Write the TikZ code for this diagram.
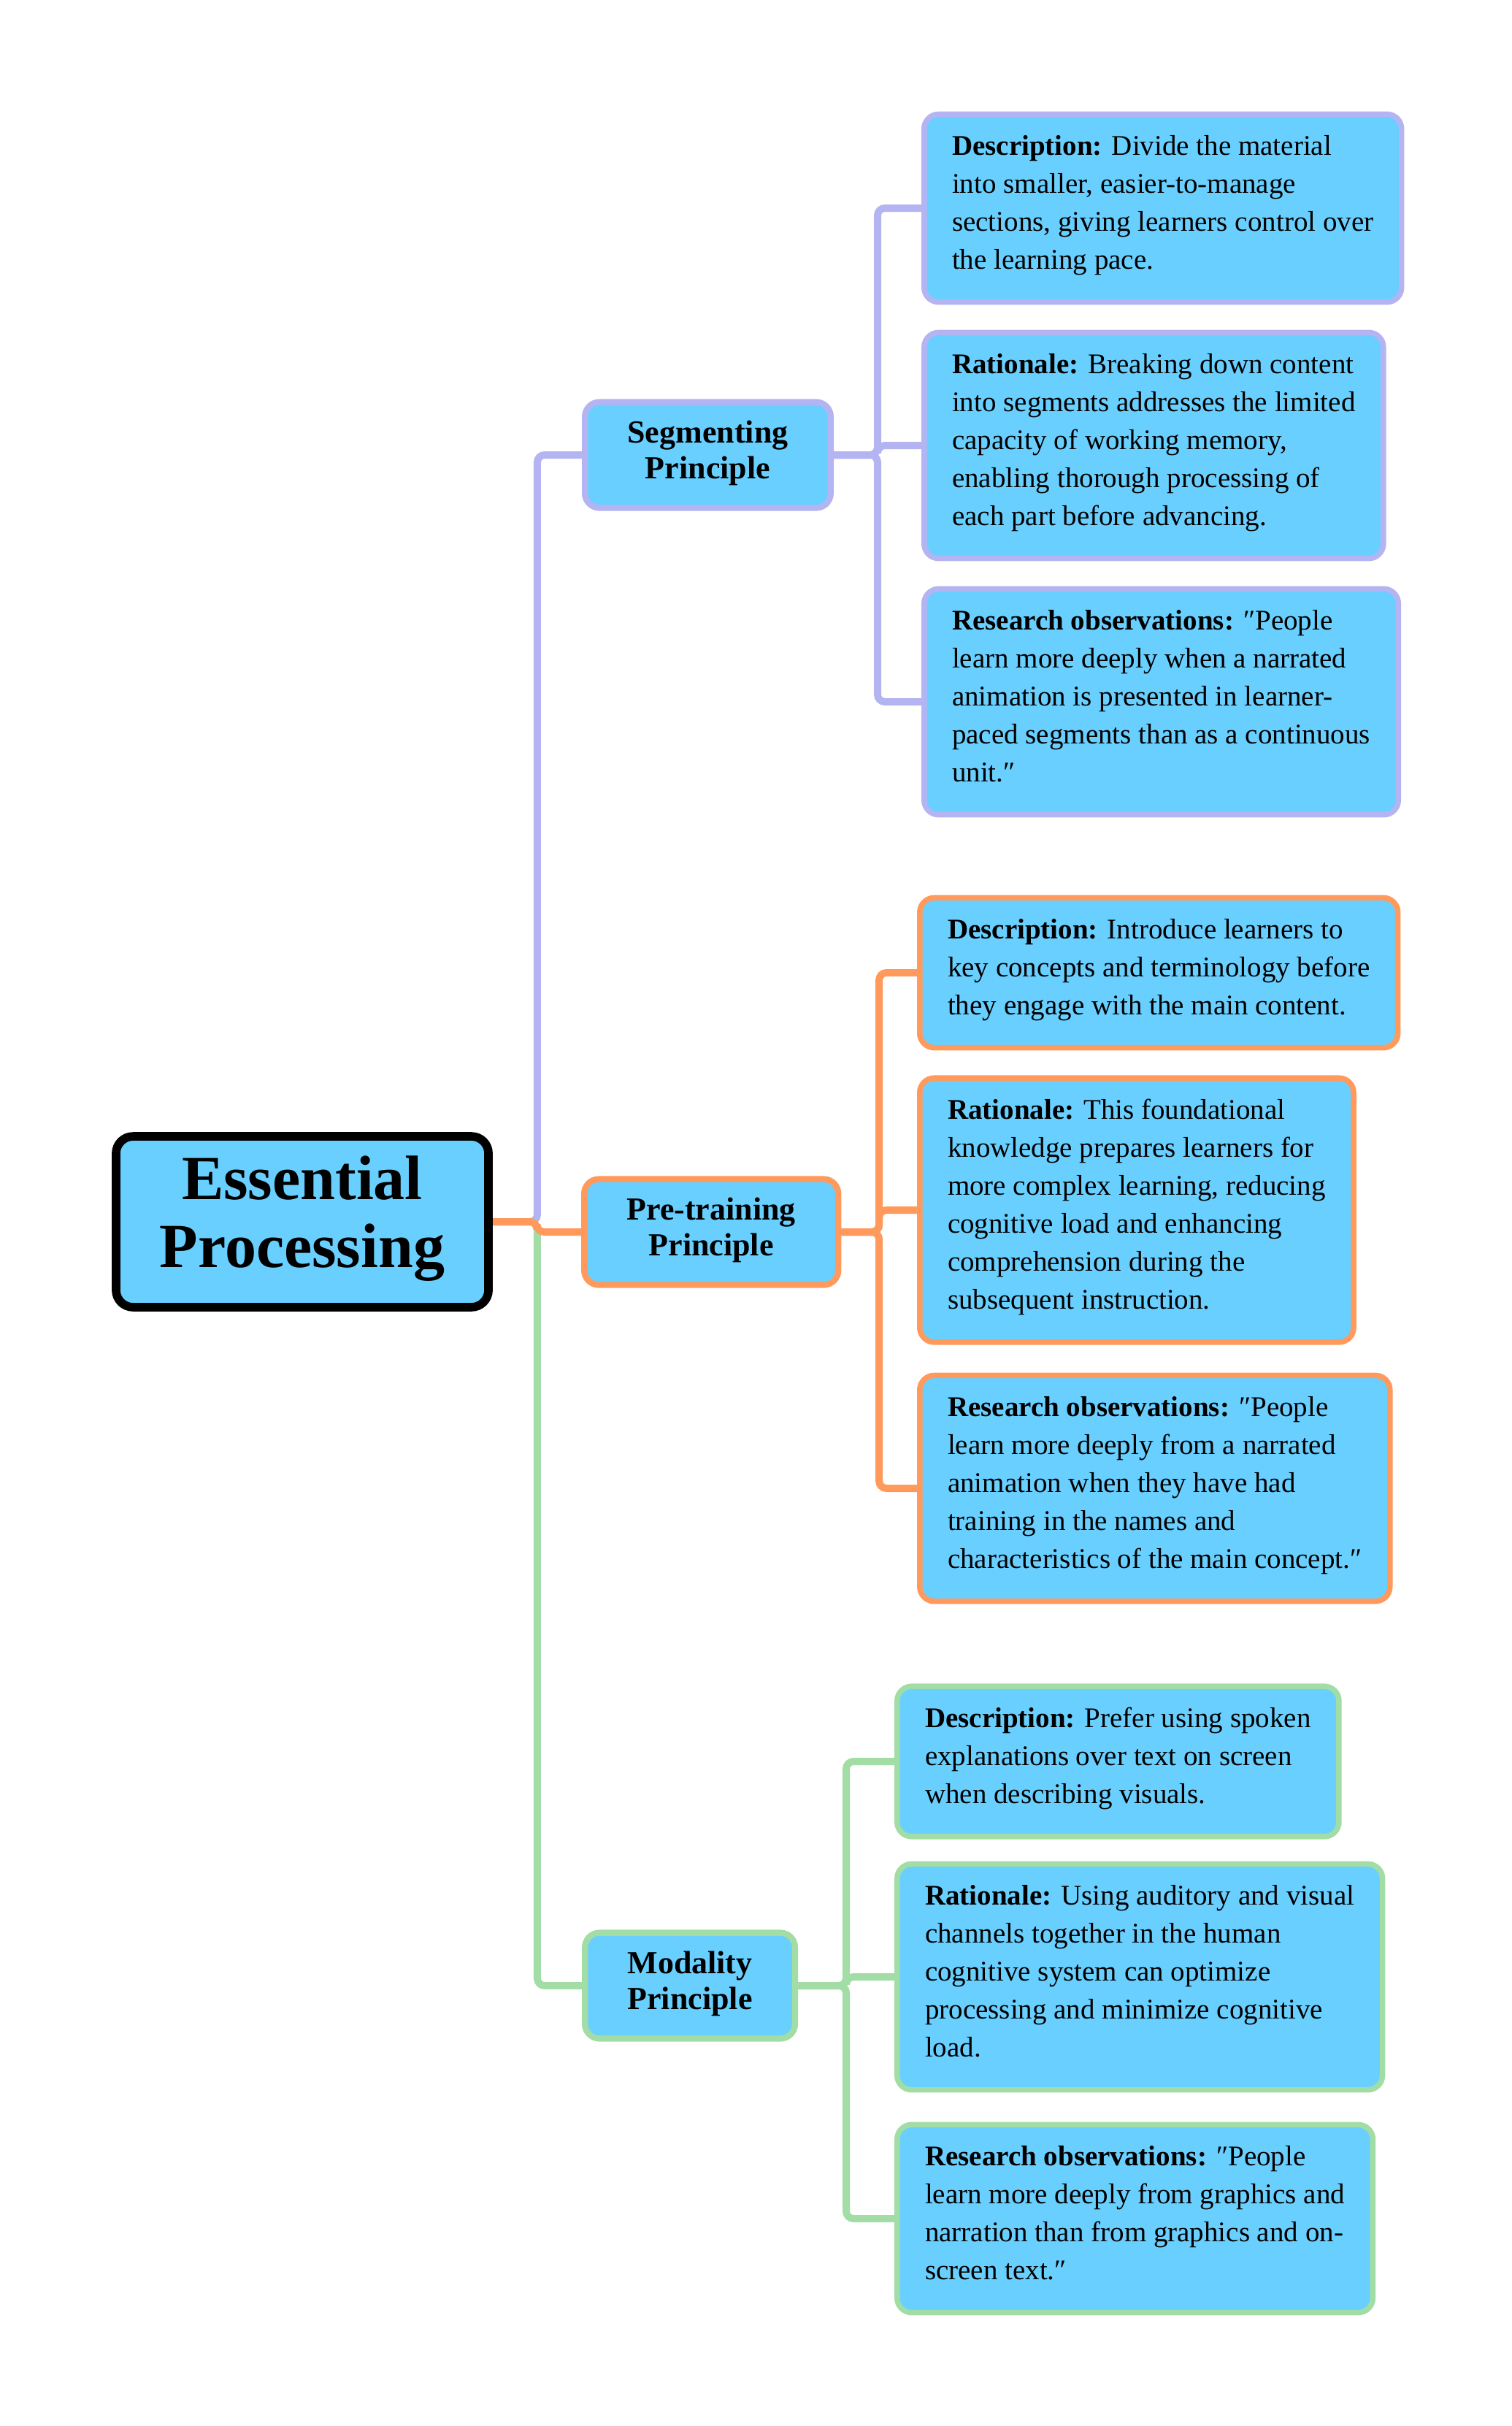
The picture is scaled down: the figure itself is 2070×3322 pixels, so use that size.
\documentclass[tikz,border=0pt]{standalone}
\usepackage{fontspec}
\setmainfont{Liberation Serif}
\usetikzlibrary{calc,backgrounds}
\definecolor{boxfill}{HTML}{69CFFF}
\definecolor{segcol}{HTML}{B4B4F3}
\definecolor{precol}{HTML}{FF995C}
\definecolor{modcol}{HTML}{A2DDA5}
\begin{document}
\begin{tikzpicture}[x=0.3pt,y=-0.3pt,
  root/.style={draw=black,line width=3.5pt,fill=boxfill,rounded corners=7pt,align=center,
    inner xsep=18pt,inner ysep=8pt,font=\fontsize{25.8}{27.9}\selectfont\bfseries,
    execute at begin node=\strut,execute at end node=\strut},
  principle/.style={draw=#1,line width=2.5pt,fill=boxfill,rounded corners=6pt,align=center,anchor=west,
    inner xsep=17.5pt,inner ysep=7.6pt,font=\fontsize{13.2}{14.7}\selectfont\bfseries,
    execute at begin node=\strut,execute at end node=\strut},
  detail/.style={draw=#1,line width=2.25pt,fill=boxfill,rounded corners=6pt,align=left,anchor=west,
    inner xsep=11.5pt,inner ysep=8.8pt,font=\fontsize{11.7}{15.6}\selectfont,
    execute at begin node=\strut,execute at end node=\strut},
  link/.style={draw=#1,line width=3pt,rounded corners=3pt}]

\useasboundingbox (0,0) rectangle (2070,3322);

\node[root] (essential) at (414,1673) {Essential\\Processing};

\node[principle=segcol] (segmenting) at (797,623) {Segmenting\\Principle};
\node[principle=precol] (pretraining) at (796,1687) {Pre-training\\Principle};
\node[principle=modcol] (modality) at (797,2719) {Modality\\Principle};

\node[detail=segcol] (segdesc) at (1262,285) {\textbf{Description:} Divide the material\\into smaller, easier-to-manage\\sections, giving learners control over\\the learning pace.};
\node[detail=segcol] (segrat) at (1262,610) {\textbf{Rationale:} Breaking down content\\into segments addresses the limited\\capacity of working memory,\\enabling thorough processing of\\each part before advancing.};
\node[detail=segcol] (segres) at (1262,961) {\textbf{Research observations:} ″People\\learn more deeply when a narrated\\animation is presented in learner-\\paced segments than as a continuous\\unit.″};

\node[detail=precol] (predesc) at (1256,1332) {\textbf{Description:} Introduce learners to\\key concepts and terminology before\\they engage with the main content.};
\node[detail=precol] (prerat) at (1256,1657) {\textbf{Rationale:} This foundational\\knowledge prepares learners for\\more complex learning, reducing\\cognitive load and enhancing\\comprehension during the\\subsequent instruction.};
\node[detail=precol] (preres) at (1256,2038) {\textbf{Research observations:} ″People\\learn more deeply from a narrated\\animation when they have had\\training in the names and\\characteristics of the main concept.″};

\node[detail=modcol] (moddesc) at (1225,2412) {\textbf{Description:} Prefer using spoken\\explanations over text on screen\\when describing visuals.};
\node[detail=modcol] (modrat) at (1225,2707) {\textbf{Rationale:} Using auditory and visual\\channels together in the human\\cognitive system can optimize\\processing and minimize cognitive\\load.};
\node[detail=modcol] (modres) at (1225,3038) {\textbf{Research observations:} ″People\\learn more deeply from graphics and\\narration than from graphics and on-\\screen text.″};

\begin{scope}[on background layer]
\draw[link=segcol] (essential.east) -- ($(essential.east)!.5!(essential.east -| segmenting.west)$) |- (segmenting.west);
\draw[link=modcol] (essential.east) -- ($(essential.east)!.5!(essential.east -| modality.west)$) |- (modality.west);
\draw[link=precol] (essential.east) -- ($(essential.east)!.5!(essential.east -| pretraining.west)$) |- (pretraining.west);

\foreach \leaf in {segdesc,segrat,segres}
  \draw[link=segcol] (segmenting.east) -- ($(segmenting.east)!.5!(segmenting.east -| \leaf.west)$) |- (\leaf.west);
\foreach \leaf in {predesc,prerat,preres}
  \draw[link=precol] (pretraining.east) -- ($(pretraining.east)!.5!(pretraining.east -| \leaf.west)$) |- (\leaf.west);
\foreach \leaf in {moddesc,modrat,modres}
  \draw[link=modcol] (modality.east) -- ($(modality.east)!.5!(modality.east -| \leaf.west)$) |- (\leaf.west);
\end{scope}

\end{tikzpicture}
\end{document}
